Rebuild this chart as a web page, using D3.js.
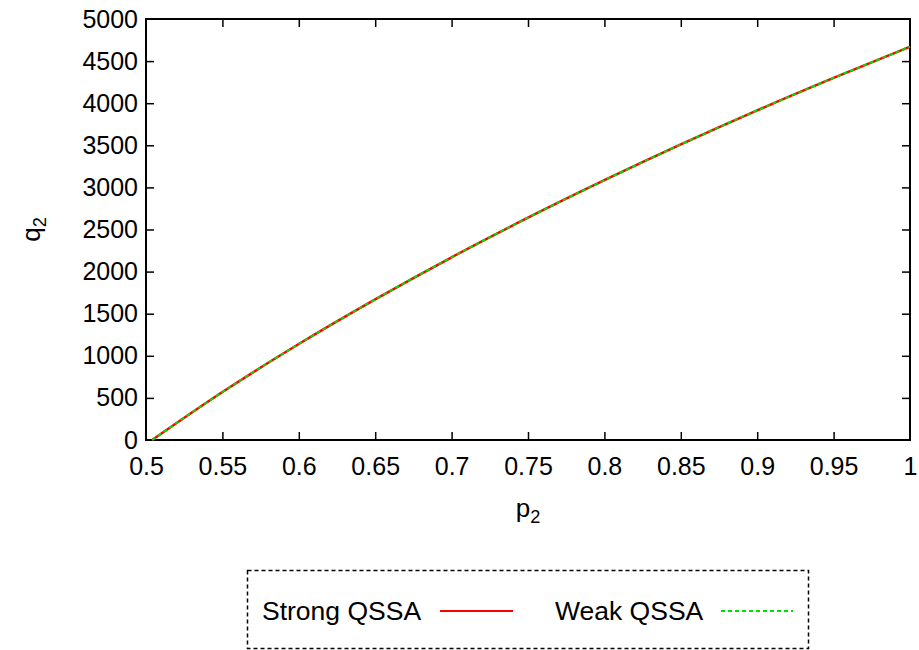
<!DOCTYPE html>
<html>
<head>
<meta charset="utf-8">
<script src="https://cdn.jsdelivr.net/npm/d3@7"></script>
<style>
  body { margin: 0; background: #fff; }
  svg { display: block; font-family: "Liberation Sans", Arial, sans-serif; }
</style>
</head>
<body>
<svg id="chart" width="919" height="650"></svg>
<script>
// values
const p2 = [0.504, 0.55, 0.6, 0.65, 0.7, 0.75, 0.8, 0.85, 0.9, 0.95, 1.0];
const strongQ2 = [0, 570, 1140, 1670, 2170, 2640, 3085, 3510, 3915, 4300, 4670];
const weakQ2 = [0, 570, 1140, 1670, 2170, 2640, 3085, 3510, 3915, 4300, 4670];
const xTicks = [0.5, 0.55, 0.6, 0.65, 0.7, 0.75, 0.8, 0.85, 0.9, 0.95, 1];
const yTicks = [0, 500, 1000, 1500, 2000, 2500, 3000, 3500, 4000, 4500, 5000];
const seriesNames = ["Strong QSSA", "Weak QSSA"];

const width = 919, height = 650;
const margin = { top: 19, right: 9, bottom: 210, left: 146 };
const tickFont = 25;
const labelFont = 26;

const svg = d3.select("#chart");

const x = d3.scaleLinear()
    .domain([0.5, 1])
    .range([margin.left, width - margin.right]);

const y = d3.scaleLinear()
    .domain([0, 5000])
    .range([height - margin.bottom, margin.top]);

const fmtX = d => d === 1 ? "1" : String(d);

// tick marks on all four sides (inward)
const tickLen = 8;
const frame = svg.append("g");

const xAxis = svg.append("g")
    .attr("transform", `translate(0,${y(0)})`)
    .call(d3.axisBottom(x).tickValues(xTicks).tickFormat(fmtX).tickSizeInner(-tickLen).tickSizeOuter(0).tickPadding(17));
const xAxisTop = svg.append("g")
    .attr("transform", `translate(0,${y(5000)})`)
    .call(d3.axisTop(x).tickValues(xTicks).tickFormat("").tickSizeInner(-tickLen).tickSizeOuter(0));
const yAxis = svg.append("g")
    .attr("transform", `translate(${x(0.5)},0)`)
    .call(d3.axisLeft(y).tickValues(yTicks).tickFormat(d3.format("d")).tickSizeInner(-tickLen).tickSizeOuter(0).tickPadding(8));
const yAxisRight = svg.append("g")
    .attr("transform", `translate(${x(1)},0)`)
    .call(d3.axisRight(y).tickValues(yTicks).tickFormat("").tickSizeInner(-tickLen).tickSizeOuter(0));

[xAxis, xAxisTop, yAxis, yAxisRight].forEach(g => {
    g.select(".domain").remove();
    g.selectAll(".tick line").attr("stroke", "#000").attr("stroke-width", 1.5);
    g.selectAll("text")
        .attr("font-family", "Liberation Sans, Arial, sans-serif")
        .attr("font-size", tickFont)
        .attr("fill", "#000");
});

// hide end ticks that sit on the frame
xAxis.selectAll(".tick line").filter(d => d === 0.5 || d === 1).remove();
xAxisTop.selectAll(".tick line").filter(d => d === 0.5 || d === 1).remove();
yAxis.selectAll(".tick line").filter(d => d === 0 || d === 5000).remove();
yAxisRight.selectAll(".tick line").filter(d => d === 0 || d === 5000).remove();

frame.append("rect")
    .attr("x", x(0.5))
    .attr("y", y(5000))
    .attr("width", x(1) - x(0.5))
    .attr("height", y(0) - y(5000))
    .attr("fill", "none")
    .attr("stroke", "#000")
    .attr("stroke-width", 2);

// curves
const line = d3.line()
    .x(d => x(d[0]))
    .y(d => y(d[1]))
    .curve(d3.curveMonotoneX);

const plot = svg.append("g");
plot.append("path")
    .datum(p2.map((p, i) => [p, strongQ2[i]]))
    .attr("d", line)
    .attr("fill", "none")
    .attr("stroke", "#ff0000")
    .attr("stroke-width", 2.5);

plot.append("path")
    .datum(p2.map((p, i) => [p, weakQ2[i]]))
    .attr("d", line)
    .attr("fill", "none")
    .attr("stroke", "#00e000")
    .attr("stroke-width", 2)
    .attr("stroke-dasharray", "4,3");

// axis labels
const yl = svg.append("text")
    .attr("transform", `translate(40,${(y(0) + y(5000)) / 2}) rotate(-90)`)
    .attr("text-anchor", "middle")
    .attr("font-size", labelFont);
yl.append("tspan").text("q");
yl.append("tspan").attr("font-size", labelFont * 0.7).attr("dy", 6).text("2");

const xl = svg.append("text")
    .attr("x", (x(0.5) + x(1)) / 2)
    .attr("y", 517)
    .attr("text-anchor", "middle")
    .attr("font-size", labelFont);
xl.append("tspan").text("p");
xl.append("tspan").attr("font-size", labelFont * 0.7).attr("dy", 6).text("2");

// legend
const legend = svg.append("g");
legend.append("rect")
    .attr("x", 247.5)
    .attr("y", 570.5)
    .attr("width", 561)
    .attr("height", 78)
    .attr("fill", "none")
    .attr("stroke", "#000")
    .attr("stroke-width", 1.5)
    .attr("stroke-dasharray", "4,3");

const legendItems = [
    { name: seriesNames[0], tx: 262, lx1: 440, lx2: 513, color: "#ff0000", dash: null },
    { name: seriesNames[1], tx: 555, lx1: 721, lx2: 793, color: "#00e000", dash: "4,3" }
];
legendItems.forEach(it => {
    legend.append("text")
        .attr("x", it.tx)
        .attr("y", 620)
        .attr("font-size", 26.5)
        .text(it.name);
    legend.append("line")
        .attr("x1", it.lx1).attr("x2", it.lx2)
        .attr("y1", 611).attr("y2", 611)
        .attr("stroke", it.color)
        .attr("stroke-width", 2)
        .attr("stroke-dasharray", it.dash);
});
</script>
</body>
</html>
